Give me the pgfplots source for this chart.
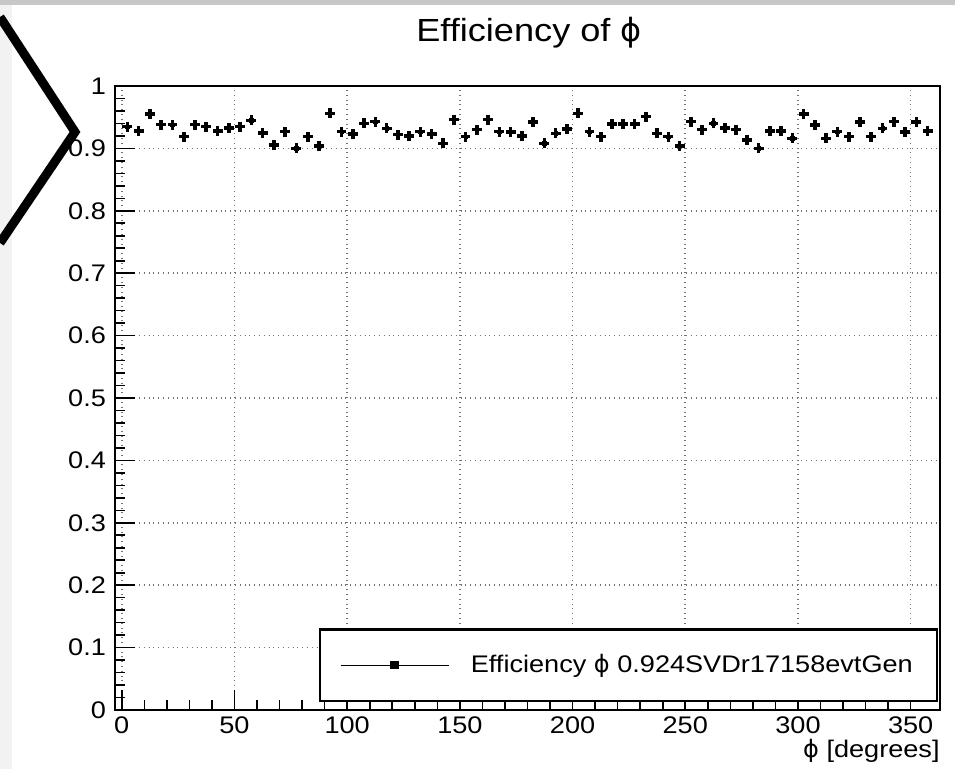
\documentclass[border=0pt]{standalone}
\usepackage{pgfplots}
\pgfplotsset{compat=1.18}
\usepackage{pgfplotstable}
\usepackage{fontspec}
\setmainfont{Liberation Sans}[FakeStretch=1.13]
\newfontfamily\symfont{DejaVu Sans}
\newcommand\phisym{{\symfont ϕ}}
\newcommand\tl{\fontsize{12}{14}\selectfont}

\pgfplotstableread{
x y
2.5 0.935
7.5 0.928
12.5 0.955
17.5 0.938
22.5 0.938
27.5 0.919
32.5 0.938
37.5 0.935
42.5 0.928
47.5 0.933
52.5 0.935
57.5 0.945
62.5 0.925
67.5 0.905
72.5 0.927
77.5 0.900
82.5 0.919
87.5 0.904
92.5 0.956
97.5 0.927
102.5 0.923
107.5 0.940
112.5 0.943
117.5 0.932
122.5 0.922
127.5 0.920
132.5 0.927
137.5 0.923
142.5 0.908
147.5 0.946
152.5 0.919
157.5 0.930
162.5 0.946
167.5 0.927
172.5 0.926
177.5 0.920
182.5 0.942
187.5 0.908
192.5 0.924
197.5 0.931
202.5 0.956
207.5 0.927
212.5 0.919
217.5 0.939
222.5 0.939
227.5 0.939
232.5 0.951
237.5 0.924
242.5 0.919
247.5 0.904
252.5 0.943
257.5 0.930
262.5 0.940
267.5 0.933
272.5 0.930
277.5 0.913
282.5 0.900
287.5 0.928
292.5 0.928
297.5 0.916
302.5 0.955
307.5 0.937
312.5 0.916
317.5 0.927
322.5 0.919
327.5 0.942
332.5 0.919
337.5 0.932
342.5 0.943
347.5 0.926
352.5 0.942
357.5 0.928
}\effdata

\begin{document}
\begin{tikzpicture}
\useasboundingbox (0pt,0pt) rectangle (477.5pt,384.5pt);
\fill[black!22] (0pt,382pt) rectangle (477.5pt,384.5pt);
\fill[black!5] (0pt,0pt) rectangle (6pt,382pt);
\draw[line width=4.5pt, miter limit=20] (0pt,376pt) -- (37.5pt,318.5pt) -- (0pt,263pt);
\node[anchor=base, font=\fontsize{16}{19}\selectfont] at (264.5pt,363.6pt) {Efficiency of \phisym};
\begin{axis}[
  at={(57.5pt,29.5pt)}, anchor=south west,
  width=412.5pt, height=312pt, scale only axis,
  xmin=-3, xmax=363, ymin=0, ymax=1,
  xtick={0,50,...,350}, ytick={0,0.1,...,1},
  minor x tick num=4, minor y tick num=4,
  tick pos=left, tick align=inside,
  major tick length=10pt, minor tick length=5pt,
  every tick/.style={black, line width=0.8pt},
  axis line style={line width=1pt},
  grid=major,
  major grid style={black!55, dotted, line width=0.8pt},
  /pgf/number format/assume math mode=true,
  tick label style={font=\tl},
  yticklabel style={xshift=-1pt},
  xlabel={\phisym{} [degrees]},
  x label style={at={(rel axis cs:1,0)}, anchor=base east, yshift=-24pt, font=\tl, inner sep=0pt},
  legend style={at={(rel axis cs:0.9976,0.0128)}, anchor=south east, draw=black, line width=1.2pt,
    inner xsep=10pt, inner ysep=10.5pt, font=\tl, fill=white, legend cell align=left},
  legend image code/.code={
    \draw[line width=0.6pt] (0pt,0pt) -- (54pt,0pt);
    \fill (25.5pt,-1.5pt) rectangle (28.5pt,1.5pt);
    \path (62.5pt,0pt);
  },
]
\addplot[black, only marks, mark=square*, mark size=0.8pt,
  error bars/.cd, x dir=both, x fixed=2.2, y dir=both, y fixed=0.008,
  error mark=none, error bar style={line width=1.8pt}]
  table[x=x, y=y] {\effdata};
\addlegendentry{Efficiency \phisym{} 0.924SVDr17158evtGen}
\end{axis}
\end{tikzpicture}
\end{document}
